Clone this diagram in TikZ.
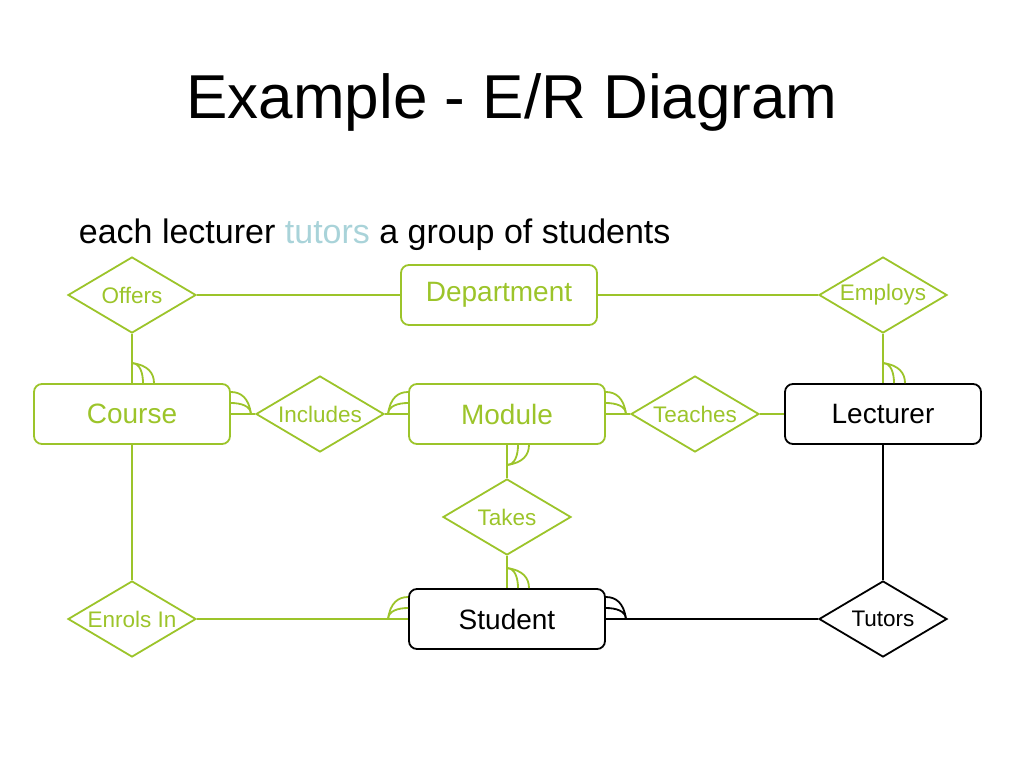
\documentclass[tikz,border=0pt]{standalone}
\usepackage{fontspec}
\setmainfont{Liberation Sans}
\usetikzlibrary{shapes.geometric}
\definecolor{g}{HTML}{9CC42A}
\definecolor{tl}{HTML}{A9D3D9}
\begin{document}
\begin{tikzpicture}[x=1pt,y=-1pt,line width=1.8pt,
 ent/.style={draw=g,text=g,rounded corners=8pt,minimum width=196pt,minimum height=60pt,font=\fontsize{28}{30}\selectfont,inner sep=0},
 rel/.style={draw=g,text=g,diamond,aspect=1.68,minimum width=128pt,minimum height=76pt,inner sep=0,font=\fontsize{22.5}{24}\selectfont},
 lk/.style={draw=g},
 crowh/.pic={\draw (-20,0) .. controls (-20,-8) and (-10,-11) .. (0,-11);
             \draw (-20,0) .. controls (-18,-16) and (-10,-22) .. (0,-22);},
 crowv/.pic={\draw (0,-20) .. controls (8,-20) and (11,-10) .. (11,0);
             \draw (0,-20) .. controls (16,-18) and (22,-10) .. (22,0);}]
\useasboundingbox (0,0) rectangle (1024,768);
\node at (512,102) {\fontsize{62}{68}\selectfont Example - E/R Diagram};
\node[anchor=west,inner sep=0] at (78,235) {\fontsize{34}{38}\selectfont each lecturer \textcolor{tl}{tutors} a group of students};
\node[ent] (dep) at (499,295) {Department};
\node[ent] (cou) at (132,414) {Course};
\node[ent] (mod) at (507,414) {Module};
\node[ent,draw=black,text=black] (lec) at (883,414) {Lecturer};
\node[ent,draw=black,text=black] (stu) at (507,619) {Student};
\node[rel] (off) at (132,295) {Offers};
\node[rel] (emp) at (883,295) {Employs};
\node[rel] (inc) at (320,414) {Includes};
\node[rel] (tea) at (695,414) {Teaches};
\node[rel] (tak) at (507,517) {Takes};
\node[rel] (enr) at (132,619) {Enrols In};
\node[rel,draw=black,text=black] (tut) at (883,619) {Tutors};
\draw[lk] (off) -- (dep); \draw[lk] (dep) -- (emp);
\draw[lk] (off) -- (cou); \draw[lk] (emp) -- (lec);
\draw[lk] (cou) -- (inc); \draw[lk] (inc) -- (mod);
\draw[lk] (mod) -- (tea); \draw[lk] (tea) -- (lec);
\draw[lk] (mod) -- (tak); \draw[lk] (tak) -- (stu);
\draw[lk] (cou) -- (enr); \draw[lk] (enr) -- (stu);
\draw (stu) -- (tut); \draw (lec) -- (tut);
\begin{scope}[g]
\pic at (cou.north) {crowv};
\pic at (lec.north) {crowv};
\pic at (stu.north) {crowv};
\pic[yscale=-1] at (mod.south) {crowv};
\pic at (mod.west) {crowh};
\pic at (stu.west) {crowh};
\pic[xscale=-1] at (cou.east) {crowh};
\pic[xscale=-1] at (mod.east) {crowh};
\end{scope}
\pic[xscale=-1] at (stu.east) {crowh};
\end{tikzpicture}
\end{document}
